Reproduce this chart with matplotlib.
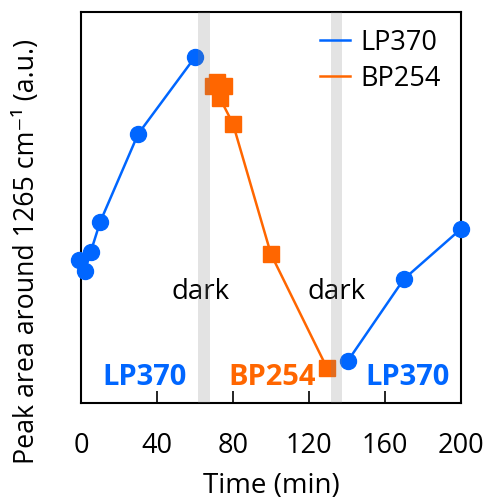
import matplotlib
matplotlib.use("Agg")
import matplotlib.pyplot as plt
import numpy as np

plt.rcParams['font.family'] = ['Open Sans', 'DejaVu Sans']

# LP370 data (two illumination periods)
lp_time_1 = [-1, 2, 5, 10, 30, 60]
lp_area_1 = [36.6, 33.8, 38.6, 46.3, 68.8, 88.5]
lp_time_2 = [140.5, 170, 200]
lp_area_2 = [10.8, 31.7, 44.5]

# BP254 data
bp_time = [69.5, 71.5, 75, 73, 80, 100, 129.5]
bp_area = [81.1, 82.1, 81.1, 78.1, 71.4, 38.1, 9.0]

# dark periods (min)
dark_periods = [(61.5, 68), (131.5, 137.5)]

blue = '#0066FF'
orange = '#FF6600'

fig = plt.figure(figsize=(4.83, 5.02), dpi=100)
ax = fig.add_axes([0.168, 0.195, 0.786, 0.779])

ax.plot(lp_time_1, lp_area_1, '-o', color=blue, lw=1.8, ms=11.5, label='LP370', zorder=3, clip_on=False)
ax.plot(lp_time_2, lp_area_2, '-o', color=blue, lw=1.8, ms=11.5, zorder=3, clip_on=False)
ax.plot(bp_time, bp_area, '-s', color=orange, lw=1.8, ms=11.5, label='BP254', zorder=3, clip_on=False)

# gray bands drawn over the markers
for start, end in dark_periods:
    ax.axvspan(start, end, color='gray', alpha=0.22, lw=0, zorder=4)

ax.text(62.8, 26.9, 'dark', ha='center', va='baseline', fontsize=20)
ax.text(134.3, 26.9, 'dark', ha='center', va='baseline', fontsize=20)

ax.text(33.4, 4.9, 'LP370', color=blue, fontsize=21, fontweight='bold', ha='center', va='baseline')
ax.text(100.5, 4.9, 'BP254', color=orange, fontsize=21, fontweight='bold', ha='center', va='baseline')
ax.text(171.9, 4.9, 'LP370', color=blue, fontsize=21, fontweight='bold', ha='center', va='baseline')

ax.set_xlim(0, 200)
ax.set_ylim(0, 100)
ax.set_xticks([0, 40, 80, 120, 160, 200])
ax.set_yticks([])
ax.tick_params(axis='x', direction='in', length=9, width=1.2, labelsize=19.5, pad=20)
for s in ax.spines.values():
    s.set_linewidth(1.5)

ax.set_xlabel('Time (min)', fontsize=20, labelpad=9)
ax.set_ylabel('Peak area around 1265 cm⁻¹ (a.u.)', fontsize=19.3)
ax.yaxis.set_label_coords(-0.105, 0.39)

leg = ax.legend(loc='upper right', frameon=False, fontsize=19.5, handlelength=1.1,
                handletextpad=0.4, labelspacing=0.3, borderaxespad=0.2,
                bbox_to_anchor=(0.99, 1.0))
for h in leg.legend_handles:
    h.set_marker('')

fig.savefig('out.png', dpi=100)
